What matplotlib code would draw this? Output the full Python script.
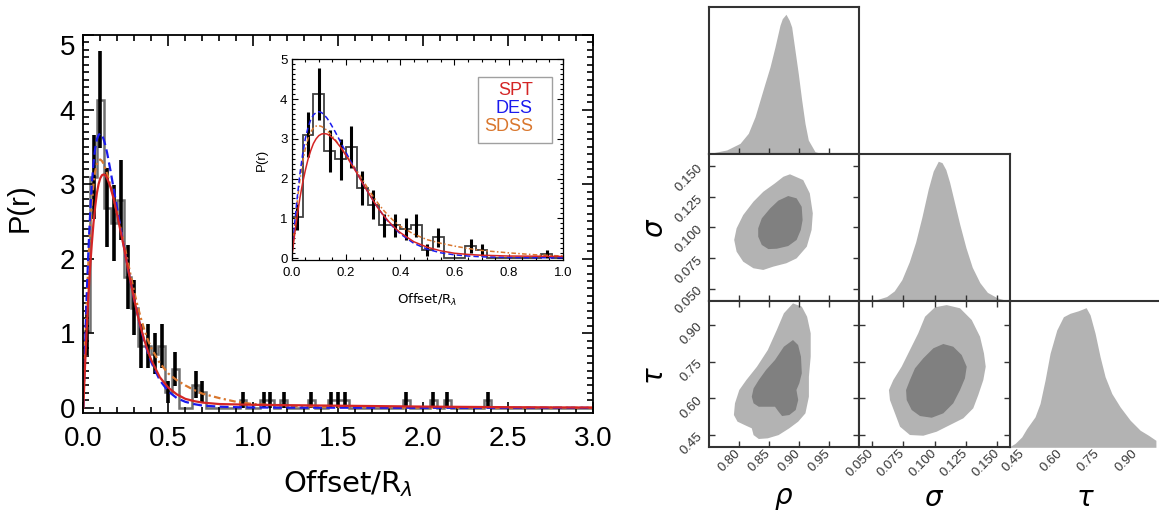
import matplotlib
matplotlib.use('Agg')
from matplotlib import pyplot as plt
from matplotlib.ticker import MultipleLocator, FormatStrFormatter
from matplotlib.patches import Rectangle
import numpy as np

plt.rcParams['font.family'] = ['Liberation Sans', 'DejaVu Sans']
plt.rcParams['mathtext.fontset'] = 'dejavusans'

# ---------------- offset histogram: counts per 0.04 bin from 0 to 3.0 ----------------
bin_width = 0.04
counts = [10, 30, 40, 26, 24, 27, 17, 13, 8, 8,
          7, 8, 2, 5, 0, 0, 3, 2, 0, 0,
          0, 0, 0, 1, 0, 0, 1, 1, 0, 1,
          0, 0, 0, 1, 0, 0, 1, 1, 1, 0,
          0, 0, 0, 0, 0, 0, 0, 1, 0, 0,
          0, 1, 0, 1, 0, 0, 0, 0, 0, 1,
          0, 0, 0, 0, 0, 0, 0, 0, 0, 0,
          0, 0, 0, 0, 0]

# best fit models
x_model = [0, 0.01, 0.02, 0.03, 0.04, 0.05, 0.06, 0.07, 0.08, 0.09, 0.10, 0.11, 0.12, 0.13,
           0.14, 0.16, 0.18, 0.20, 0.22, 0.24, 0.26, 0.28, 0.30, 0.32, 0.34, 0.36, 0.38, 0.40,
           0.45, 0.50, 0.55, 0.60, 0.65, 0.70, 0.80, 0.90, 1.0, 1.2, 1.5, 2.0, 2.5, 3.0]
spt = [0, 0.55, 1.05, 1.5, 1.88, 2.2, 2.48, 2.7, 2.88, 3.0, 3.08, 3.12, 3.13, 3.12,
       3.08, 2.96, 2.79, 2.58, 2.36, 2.14, 1.9, 1.67, 1.45, 1.24, 1.06, 0.9, 0.76, 0.64,
       0.41, 0.27, 0.18, 0.12, 0.09, 0.07, 0.05, 0.045, 0.04, 0.035, 0.028, 0.016, 0.008, 0.003]
des = [0, 0.8, 1.5, 2.1, 2.6, 3.0, 3.28, 3.48, 3.6, 3.66, 3.68, 3.66, 3.6, 3.52,
       3.42, 3.18, 2.92, 2.66, 2.4, 2.15, 1.9, 1.67, 1.45, 1.24, 1.05, 0.88, 0.74, 0.61,
       0.37, 0.22, 0.13, 0.08, 0.05, 0.03, 0.015, 0.008, 0.004, 0.002, 0.001, 0, 0, 0]
sdss = [0, 0.75, 1.4, 1.95, 2.4, 2.75, 3.0, 3.17, 3.27, 3.32, 3.33, 3.31, 3.27, 3.21,
        3.14, 2.98, 2.8, 2.6, 2.4, 2.2, 1.98, 1.76, 1.55, 1.36, 1.19, 1.04, 0.91, 0.8,
        0.6, 0.46, 0.37, 0.3, 0.24, 0.19, 0.13, 0.08, 0.05, 0.025, 0.01, 0.003, 0, 0]
legend_names = ['SPT', 'DES', 'SDSS']
col_spt, col_des, col_sdss = '#d42525', '#1a1aee', '#d9772e'

# ---------------- posterior (rho, sigma, tau) ----------------
rho_ticks = [0.80, 0.85, 0.90, 0.95]
sig_ticks = [0.050, 0.075, 0.100, 0.125, 0.150]
tau_ticks = [0.45, 0.60, 0.75, 0.90]

rho_grid = [0.752, 0.7795, 0.8017, 0.8155, 0.8267, 0.835, 0.8433, 0.8517, 0.86, 0.8683,
            0.8722, 0.8783, 0.8838, 0.8878, 0.8933, 0.8988, 0.9045, 0.910, 0.9155, 0.9267,
            0.9405, 0.957]
rho_pdf = [0.007, 0.031, 0.078, 0.150, 0.268, 0.387, 0.506, 0.624, 0.767, 0.922,
           0.969, 1.0, 0.957, 0.909, 0.743, 0.577, 0.387, 0.221, 0.102, 0.0185,
           0.002, 0.0]

sig_grid = [0.048, 0.055, 0.062, 0.068, 0.074, 0.080, 0.085, 0.090, 0.095, 0.099, 0.103,
            0.106, 0.109, 0.112, 0.116, 0.120, 0.125, 0.130, 0.136, 0.142, 0.150, 0.158]
sig_pdf = [0.0, 0.01, 0.03, 0.07, 0.15, 0.28, 0.42, 0.6, 0.8, 0.93, 1.0,
           0.99, 0.94, 0.85, 0.7, 0.55, 0.38, 0.24, 0.13, 0.06, 0.02, 0.0]

tau_grid = [0.4028, 0.4199, 0.4465, 0.4664, 0.4995, 0.5194, 0.5393, 0.5592, 0.5858, 0.6121,
            0.6388, 0.6718, 0.7024, 0.7183, 0.7382, 0.7581, 0.778, 0.8046, 0.8377, 0.8775,
            0.9173, 0.9503, 0.9797, 0.9798]
tau_pdf = [0.009, 0.027, 0.074, 0.134, 0.218, 0.314, 0.481, 0.673, 0.840, 0.935,
           0.960, 0.978, 1.0, 0.948, 0.816, 0.648, 0.505, 0.385, 0.289, 0.194,
           0.122, 0.086, 0.050, 0.0]

# 2D credible regions (outer 95%, inner 68%) as outlines
rs_out_rho = [0.885, 0.907, 0.918, 0.923, 0.921, 0.913, 0.896, 0.879, 0.857, 0.8405, 0.824,
              0.807, 0.796, 0.792, 0.796, 0.807, 0.824, 0.8405, 0.86, 0.874]
rs_out_sig = [0.1436, 0.1389, 0.128, 0.1116, 0.098, 0.0843, 0.0747, 0.0707, 0.0679, 0.0652, 0.0666,
              0.072, 0.0802, 0.0898, 0.0993, 0.1102, 0.1211, 0.1293, 0.1362, 0.1416]
rs_in_rho = [0.882, 0.896, 0.9045, 0.906, 0.903, 0.896, 0.882, 0.863, 0.849, 0.838, 0.832,
             0.832, 0.838, 0.852, 0.8655]
rs_in_sig = [0.1258, 0.1239, 0.117, 0.1061, 0.098, 0.0898, 0.0848, 0.0826, 0.0823, 0.0857, 0.0925,
             0.0993, 0.1075, 0.1157, 0.122]

rt_out_rho = [0.890, 0.9047, 0.9135, 0.9195, 0.9195, 0.9165, 0.9165, 0.9107, 0.8987, 0.8838,
              0.866, 0.848, 0.833, 0.8243, 0.8213, 0.8093, 0.7975, 0.7915, 0.7933, 0.8005,
              0.8123, 0.830, 0.848, 0.863, 0.8748]
rt_out_tau = [0.989, 0.9755, 0.9345, 0.8665, 0.7708, 0.689, 0.607, 0.539, 0.505, 0.4777,
              0.450, 0.4367, 0.434, 0.450, 0.4777, 0.4912, 0.505, 0.5322, 0.580, 0.6345,
              0.6754, 0.730, 0.798, 0.880, 0.9484]
rt_in_rho = [0.890, 0.8985, 0.9033, 0.9047, 0.9005, 0.8957, 0.8987, 0.8945, 0.8838, 0.8718,
             0.866, 0.860, 0.848, 0.833, 0.8243, 0.8213, 0.8243, 0.833, 0.845, 0.860, 0.8748]
rt_in_tau = [0.839, 0.8187, 0.7708, 0.7028, 0.662, 0.6345, 0.5935, 0.5526, 0.532, 0.528,
             0.5457, 0.566, 0.566, 0.566, 0.580, 0.607, 0.641, 0.6754, 0.7163, 0.7573, 0.8117]

st_out_sig = [0.1097, 0.1203, 0.1296, 0.1362, 0.1393, 0.1407, 0.1388, 0.1348, 0.1308, 0.1229,
              0.1123, 0.1017, 0.0911, 0.0805, 0.0726, 0.0686, 0.0646, 0.0638, 0.0673, 0.0739,
              0.0805, 0.0871, 0.0925, 0.1004]
st_out_tau = [0.982, 0.969, 0.921, 0.8526, 0.7846, 0.7298, 0.6754, 0.614, 0.5596, 0.5186,
              0.4912, 0.4638, 0.4474, 0.4503, 0.4843, 0.539, 0.5935, 0.6345, 0.6754, 0.7298,
              0.7982, 0.8666, 0.9345, 0.973]
st_in_sig = [0.107, 0.1149, 0.1216, 0.1256, 0.1242, 0.1203, 0.1149, 0.107, 0.0978, 0.0885,
             0.0819, 0.0779, 0.0774, 0.0805, 0.0845, 0.0911, 0.0991]
st_in_tau = [0.8228, 0.8117, 0.7777, 0.7298, 0.6823, 0.6345, 0.58, 0.539, 0.521, 0.528,
             0.5526, 0.5935, 0.6345, 0.6754, 0.7233, 0.7642, 0.8052]

W, H = 1159, 514
fig = plt.figure(figsize=(W / 100, H / 100), dpi=100)


def rect(l, t, r, b):
    return [l / W, 1 - b / H, (r - l) / W, (b - t) / H]


counts = np.array(counts, dtype=float)
edges = np.arange(len(counts) + 1) * bin_width
centers = edges[:-1] + bin_width / 2
norm = counts.sum() * bin_width
dens = counts / norm
err = np.sqrt(counts) / norm
has = counts > 0


def draw_hist(a, lw_step, step_col, lw_err, lw_model, dash_b, dash_o):
    a.stairs(dens, edges, color=step_col, lw=lw_step, baseline=None)
    a.errorbar(centers[has], dens[has], yerr=err[has], fmt='none', ecolor='black',
               elinewidth=lw_err, capsize=0)
    a.plot(x_model, sdss, color=col_sdss, lw=lw_model, ls=(0, dash_o))
    a.plot(x_model, des, color=col_des, lw=lw_model, ls=(0, dash_b))
    a.plot(x_model, spt, color=col_spt, lw=lw_model)


# ---------------- main panel ----------------
ax = fig.add_axes(rect(83.3, 35, 593.3, 413))
draw_hist(ax, 1.8, '#707070', 2.6, 1.6, (4, 2), (3, 1.5, 1, 1.5))
ax.set_xlim(0, 3)
ax.set_ylim(-0.07, 5)
ax.xaxis.set_major_locator(MultipleLocator(0.5))
ax.xaxis.set_minor_locator(MultipleLocator(0.1))
ax.xaxis.set_major_formatter(FormatStrFormatter('%.1f'))
ax.set_yticks([0, 1, 2, 3, 4, 5])
ax.yaxis.set_minor_locator(MultipleLocator(0.1))
for s in ax.spines.values():
    s.set_linewidth(1.3)
ax.tick_params(which='both', direction='in', top=True, right=True, width=1.2)
ax.tick_params(which='major', length=8, labelsize=20)
ax.tick_params(which='minor', length=4)
ax.tick_params(axis='x', pad=9)
ax.tick_params(axis='y', pad=6)
ax.yaxis.get_major_ticks()[-1].label1.set_va('top')
ax.set_ylabel('P(r)', fontsize=21)
ax.yaxis.set_label_coords(-0.097, 0.542)
ax.set_xlabel(r'Offset/R$_{\lambda}$', fontsize=21, family='DejaVu Sans')
ax.xaxis.set_label_coords(0.519, -0.145)

# ---------------- inset ----------------
axi = fig.add_axes(rect(291.7, 59.3, 563, 260))
draw_hist(axi, 1.3, '#404040', 2.2, 1.1, (3.5, 2), (3, 1.5, 1, 1.5))
axi.set_xlim(0, 1)
axi.set_ylim(-0.05, 5)
axi.xaxis.set_major_locator(MultipleLocator(0.2))
axi.xaxis.set_minor_locator(MultipleLocator(0.05))
axi.xaxis.set_major_formatter(FormatStrFormatter('%.1f'))
axi.set_yticks([0, 1, 2, 3, 4, 5])
axi.yaxis.set_minor_locator(MultipleLocator(0.125))
for s in axi.spines.values():
    s.set_linewidth(0.9)
axi.tick_params(which='both', direction='in', top=True, right=True, width=0.8)
axi.tick_params(which='major', length=4, labelsize=9.5)
axi.tick_params(which='minor', length=2)
axi.tick_params(axis='x', pad=5)
axi.tick_params(axis='y', pad=3)
axi.set_ylabel('P(r)', fontsize=9.5, labelpad=9)
axi.set_xlabel(r'Offset/R$_{\lambda}$', fontsize=9.5, family='DejaVu Sans', labelpad=9)
axi.add_patch(Rectangle((0.686, 0.581), 0.272, 0.329, transform=axi.transAxes,
                        fill=False, ec='#a0a0a0', lw=1.0))
for name, c, yy in zip(legend_names, [col_spt, col_des, col_sdss], [0.847, 0.756, 0.663]):
    axi.text(0.889, yy, name, color=c, fontsize=13, ha='right', va='center',
             transform=axi.transAxes)

# ---------------- corner plot ----------------
light, dark, frame = '#b3b3b3', '#808080', '#333333'
cols = [(709, 859), (859, 1010), (1010, 1161)]
rows = [(7.3, 154.3), (154.3, 300.7), (300.7, 447.3)]
lims = [(0.75, 1.0), (0.04, 0.16), (0.4, 1.0)]
ticks = [rho_ticks, sig_ticks, tau_ticks]
fmts = ['%.2f', '%.3f', '%.2f']


def panel(i, j):
    a = fig.add_axes(rect(cols[j][0], rows[i][0], cols[j][1], rows[i][1]))
    for s in a.spines.values():
        s.set_color(frame)
        s.set_linewidth(1.5)
    a.set_xlim(lims[j])
    a.set_xticks(ticks[j])
    a.xaxis.set_major_formatter(FormatStrFormatter(fmts[j]))
    a.tick_params(which='both', direction='in', color=frame, length=4.5, width=1.0,
                  labelsize=9.5, labelcolor='#333333', pad=3)
    if i == 2:
        for lab in a.get_xticklabels():
            lab.set(rotation=45, ha='right', va='center', rotation_mode='anchor')
    else:
        a.tick_params(labelbottom=False)
    return a


def marginal(i, grid, pdf):
    a = panel(i, i)
    a.fill_between(grid, pdf, color=light, lw=0)
    a.set_ylim(0, 1.05)
    a.set_yticks([])
    return a


def joint(i, j, xo, yo, xi, yi):
    a = panel(i, j)
    a.fill(xo, yo, color=light, lw=0)
    a.fill(xi, yi, color=dark, lw=0)
    a.set_ylim(lims[i])
    a.set_yticks(ticks[i])
    a.yaxis.set_major_formatter(FormatStrFormatter(fmts[i]))
    a.tick_params(axis='y', left=True, right=True, pad=6)
    if i == 2:
        a.tick_params(axis='x', top=True)
    if j == 0:
        for lab in a.get_yticklabels():
            lab.set(rotation=45, ha='right', va='center', rotation_mode='anchor')
    else:
        a.tick_params(labelleft=False)
    return a


m0 = marginal(0, rho_grid, rho_pdf)
m1 = marginal(1, sig_grid, sig_pdf)
m2 = marginal(2, tau_grid, tau_pdf)
m2.spines['bottom'].set_visible(False)
m2.spines['right'].set_visible(False)
m2.tick_params(axis='x', length=0)
joint(1, 0, rs_out_rho, rs_out_sig, rs_in_rho, rs_in_sig)
joint(2, 0, rt_out_rho, rt_out_tau, rt_in_rho, rt_in_tau)
joint(2, 1, st_out_sig, st_out_tau, st_in_sig, st_in_tau)

for txt, xx in zip([r'$\rho$', r'$\sigma$', r'$\tau$'], [783.5, 934, 1085]):
    fig.text(xx / W, 1 - 499 / H, txt, fontsize=20, ha='center', va='center')
for txt, yy in zip([r'$\sigma$', r'$\tau$'], [228, 376]):
    fig.text(656 / W, 1 - yy / H, txt, fontsize=20, ha='center', va='center', rotation=90)

fig.savefig('out.png', dpi=100)
